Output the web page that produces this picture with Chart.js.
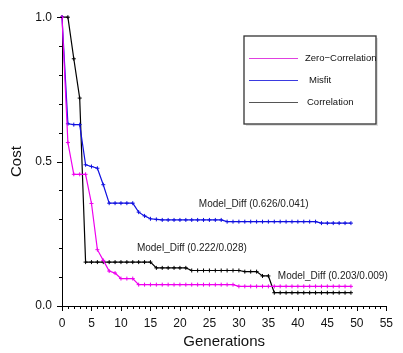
<!DOCTYPE html>
<html>
<head>
<meta charset="utf-8">
<script src="https://cdn.jsdelivr.net/npm/chart.js@4/dist/chart.umd.min.js"></script>
<style>
html,body{margin:0;padding:0;background:#fff;}
canvas{display:block;}
</style>
</head>
<body>
<canvas id="c" width="403" height="353"></canvas>
<script>
const generations = [0,1,2,3,4,5,6,7,8,9,10,11,12,13,14,15,16,17,18,19,20,21,22,23,24,25,26,27,28,29,30,31,32,33,34,35,36,37,38,39,40,41,42,43,44,45,46,47,48,49];
const zeroCorrelation = [1.0,0.566,0.456,0.456,0.456,0.355,0.195,0.158,0.121,0.114,0.095,0.095,0.095,
  0.074,0.074,0.074,0.074,0.074,0.074,0.074,0.074,0.074,0.074,0.074,0.074,0.074,0.074,0.074,0.074,0.074,
  0.068,0.068,0.068,0.068,0.068,0.068,0.068,0.068,0.068,0.068,0.068,0.068,0.068,0.068,0.068,0.068,0.068,0.068,0.068,0.068];
const misfit = [1.0,0.631,0.628,0.628,0.489,0.483,0.477,0.42,0.356,0.356,0.356,0.356,0.356,0.325,0.312,0.302,0.300,
  0.298,0.298,0.298,0.298,0.298,0.298,0.298,0.298,0.298,0.298,0.298,
  0.292,0.292,0.292,0.292,0.292,0.292,0.292,0.292,0.292,0.292,0.292,0.292,0.292,0.292,0.292,0.292,
  0.287,0.287,0.287,0.287,0.287,0.287];
const correlation = [1.0,1.0,0.856,0.72,0.152,0.152,0.152,0.152,0.152,0.152,0.152,0.152,0.152,0.152,0.152,0.152,
  0.132,0.132,0.132,0.132,0.132,0.132,
  0.123,0.123,0.123,0.123,0.123,0.123,0.123,0.123,0.123,
  0.119,0.119,0.119,0.104,0.104,
  0.046,0.046,0.046,0.046,0.046,0.046,0.046,0.046,0.046,0.046,0.046,0.046,0.046,0.046];
const seriesNames = ["Zero\u2212Correlation","Misfit","Correlation"];
const annotationTexts = ["Model_Diff (0.626/0.041)","Model_Diff (0.222/0.028)","Model_Diff (0.203/0.009)"];
const annotationAnchors = [[23.2,0.354],[12.7,0.2],[36.6,0.103]];

const FONT = "'Liberation Sans', Arial, sans-serif";

function pts(arr){ return arr.map((v,i)=>({x:generations[i], y:v})); }

const tickPlugin = {
  id:'ticks',
  afterDraw(chart){
    const ctx = chart.ctx;
    const xs = chart.scales.x, ys = chart.scales.y;
    const a = chart.chartArea;
    ctx.save();
    ctx.strokeStyle = '#000';
    ctx.lineWidth = 1;
    ctx.beginPath();
    for (let v=0; v<=55; v++){
      const px = Math.round(xs.getPixelForValue(v))+0.5;
      const len = (v%5===0)?5:3;
      ctx.moveTo(px, a.bottom); ctx.lineTo(px, a.bottom+len);
    }
    for (let k=0; k<=10; k++){
      const py = Math.round(ys.getPixelForValue(k/10))+0.5;
      const len = (k%5===0)?5:3;
      ctx.moveTo(a.left, py); ctx.lineTo(a.left-len, py);
    }
    ctx.stroke();
    // annotations
    ctx.fillStyle = '#222';
    ctx.font = "10px " + FONT;
    ctx.textBaseline = 'middle';
    ctx.textAlign = 'left';
    annotationTexts.forEach((t,i)=>{
      ctx.fillText(t, xs.getPixelForValue(annotationAnchors[i][0]), ys.getPixelForValue(annotationAnchors[i][1]));
    });
    // legend box
    const bx=244, by=36, bw=132, bh=88;
    ctx.fillStyle='rgba(0,0,0,0.12)';
    ctx.fillRect(bx+2, by+2, bw, bh);
    ctx.fillStyle='#fff';
    ctx.fillRect(bx, by, bw, bh);
    ctx.strokeStyle='#333';
    ctx.lineWidth=1.3;
    ctx.strokeRect(bx, by, bw, bh);
    const legendColors = ['#e040e0','#3a3ae0','#555'];
    ctx.font = "9.5px " + FONT;
    ctx.fillStyle = '#111';
    chart.data.datasets.forEach((ds,i)=>{
      const y = 58 + i*22;
      ctx.strokeStyle = legendColors[i];
      ctx.lineWidth = 1.2;
      ctx.beginPath(); ctx.moveTo(249, y+0.5); ctx.lineTo(298, y+0.5); ctx.stroke();
      ctx.fillText(ds.label, i===0?305:(i===1?309:307), y);
    });
    ctx.restore();
  }
};

new Chart(document.getElementById('c'), {
  type:'line',
  data:{
    datasets:[
      {label:seriesNames[0], data:pts(zeroCorrelation), borderColor:'#ee00ee', backgroundColor:'#ee00ee', borderWidth:1.2, pointStyle:'cross', pointRadius:2, pointBorderWidth:1, tension:0, clip:false},
      {label:seriesNames[1], data:pts(misfit), borderColor:'#1010e0', backgroundColor:'#1010e0', borderWidth:1.2, pointStyle:'cross', pointRadius:2, pointBorderWidth:1, tension:0, clip:false},
      {label:seriesNames[2], data:pts(correlation), borderColor:'#000', backgroundColor:'#000', borderWidth:1.2, pointStyle:'cross', pointRadius:2, pointBorderWidth:1, tension:0, clip:false}
    ]
  },
  options:{
    responsive:false,
    animation:false,
    devicePixelRatio:1,
    layout:{padding:{left:0, top:14, right:11, bottom:0}},
    plugins:{legend:{display:false}, tooltip:{enabled:false}},
    scales:{
      x:{
        type:'linear', min:0, max:55,
        afterFit(s){ s.height = 47; },
        grid:{display:false, drawTicks:false},
        border:{display:true, color:'#000', width:1},
        ticks:{stepSize:1, autoSkip:false, maxRotation:0, padding:10, color:'#111',
          font:{family:FONT, size:12},
          callback:(v)=> (Math.round(v)%5===0 ? String(Math.round(v)) : '')},
        title:{display:true, text:'Generations', color:'#111', font:{family:FONT, size:15}, padding:{top:0,bottom:2}}
      },
      y:{
        min:0, max:1,
        afterFit(s){ s.width = 62; },
        grid:{display:false, drawTicks:false},
        border:{display:true, color:'#000', width:1},
        ticks:{stepSize:0.1, autoSkip:false, padding:10, color:'#111',
          font:{family:FONT, size:12},
          callback:(v)=> (Math.round(v*10)%5===0 ? v.toFixed(1) : '')},
        title:{display:true, text:'Cost', color:'#111', font:{family:FONT, size:15}, padding:{top:8,bottom:0}}
      }
    }
  },
  plugins:[tickPlugin]
});
</script>
</body>
</html>
